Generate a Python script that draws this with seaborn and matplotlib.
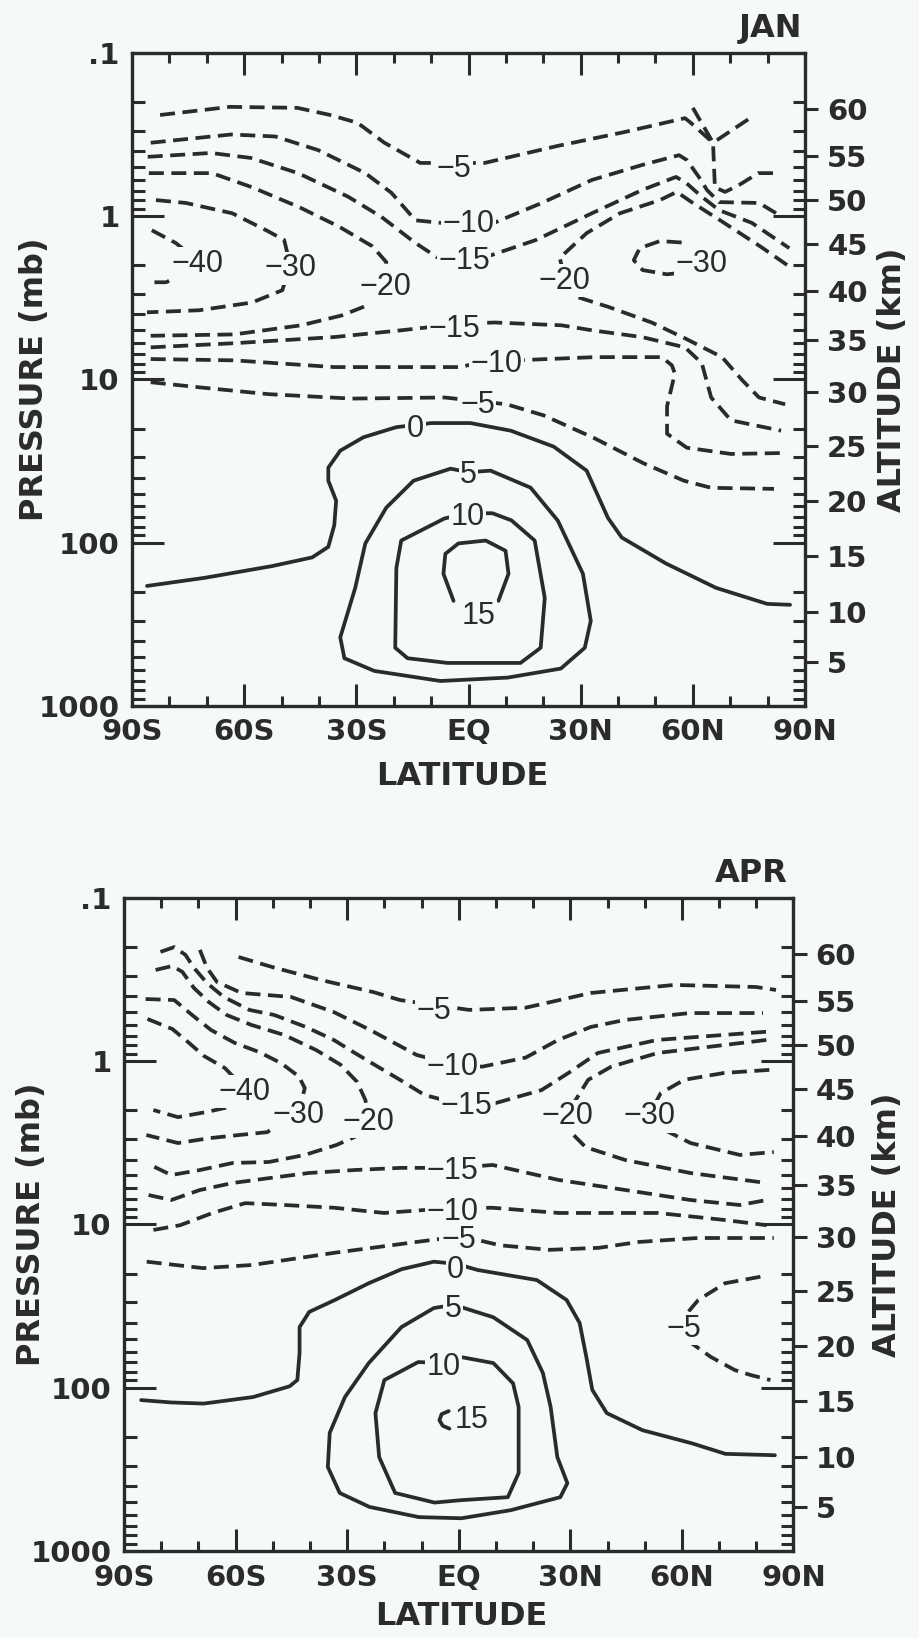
import numpy as np
import matplotlib
matplotlib.use("Agg")
import matplotlib.pyplot as plt
from matplotlib.ticker import FixedLocator, FixedFormatter, LogLocator, NullFormatter, NullLocator
import seaborn as sns

# ---------------- axis values ----------------
lat_ticks = [-90, -60, -30, 0, 30, 60, 90]
lat_tick_labels = ["90S", "60S", "30S", "EQ", "30N", "60N", "90N"]
lat_minor = [-80, -70, -50, -40, -20, -10, 10, 20, 40, 50, 70, 80]
p_ticks = [0.1, 1, 10, 100, 1000]
p_tick_labels = [".1", "1", "10", "100", "1000"]
alt_km = [5, 10, 15, 20, 25, 30, 35, 40, 45, 50, 55, 60]
alt_mb = [540, 265, 121, 55.3, 25.5, 12.0, 5.75, 2.87, 1.49, 0.80, 0.43, 0.22]

# ---------------- JAN contours (latitude, pressure mb) ----------------
jan_m5a_lat = [-82.5, -63.8, -45.8, -37.0, -29.7, -22.5, -12.9, 4.3, 23.9, 41.8, 57.9, 59.2, 65.4, 65.9, 68.6, 72.1, 77.5, 82.8]
jan_m5a_p = [0.240, 0.214, 0.217, 0.240, 0.268, 0.355, 0.472, 0.472, 0.371, 0.305, 0.251, 0.265, 0.355, 0.665, 0.71, 0.65, 0.545, 0.545]
jan_m5v_lat = [60.0, 65.4, 75.3]
jan_m5v_p = [0.217, 0.355, 0.251]
jan_m10a_lat = [-85.0, -63.5, -51.7, -40.2, -27.6, -20.6, -14.2, -7.2, 7.2, 19.6, 33.0, 46.4, 56.3, 58.4, 61.6, 63.8, 67.0, 77.7, 82.3, 83.1]
jan_m10a_p = [0.355, 0.316, 0.325, 0.394, 0.545, 0.72, 1.06, 1.10, 1.09, 0.83, 0.60, 0.486, 0.423, 0.453, 0.575, 0.692, 0.82, 0.83, 0.96, 1.01]
jan_m15a_lat = [-85.8, -68.9, -58.2, -45.6, -32.2, -23.3, -14.2, -7.2, 6.2, 18.0, 33.0, 46.4, 55.5, 58.2, 62.4, 67.0, 75.8, 85.8]
jan_m15a_p = [0.433, 0.41, 0.44, 0.545, 0.76, 1.01, 1.46, 1.86, 1.73, 1.40, 0.96, 0.692, 0.575, 0.625, 0.76, 0.918, 1.10, 1.57]
jan_m20a_lat = [-85.5, -68.6, -57.9, -45.3, -34.6, -25.7, -22.0, -22.0, -26.8, -34.0, -44.8, -62.7, -85.0]
jan_m20a_p = [0.545, 0.545, 0.665, 0.88, 1.16, 1.53, 1.91, 2.6, 3.5, 4.06, 4.66, 5.3, 5.4]
jan_m30a_lat = [-83.6, -75.6, -63.2, -54.1, -49.3, -47.7, -49.8, -57.9, -72.1, -86.0]
jan_m30a_p = [0.797, 0.83, 0.96, 1.22, 1.40, 1.99, 2.84, 3.38, 3.77, 3.88]
jan_m40_lat = [-84.7, -78.3, -72.6, -75.6, -80.9, -85.5]
jan_m40_p = [1.22, 1.46, 1.86, 2.23, 2.54, 2.54]
jan_m30b_lat = [57.0, 51.2, 45.8, 44.2, 46.6, 53.1, 57.0]
jan_m30b_p = [1.45, 1.42, 1.57, 1.86, 2.14, 2.27, 2.22]
jan_m20b_lat = [85.2, 78.0, 67.3, 60.0, 55.7, 51.2, 40.5, 31.6, 24.4, 25.7, 27.6, 37.5, 49.0, 57.9, 67.8, 73.2, 77.7, 84.7]
jan_m20b_p = [1.99, 1.53, 1.06, 0.83, 0.71, 0.797, 0.96, 1.27, 1.80, 2.38, 3.05, 3.6, 4.48, 5.6, 7.3, 10.1, 12.9, 14.2]
jan_m15b_lat = [-85.0, -62.7, -35.9, -18.0, -1.9, 7.0, 24.9, 33.0, 46.4, 57.9, 62.4, 64.9, 70.2, 83.6]
jan_m15b_p = [6.36, 6.0, 5.5, 5.0, 4.55, 4.48, 4.66, 5.0, 5.5, 6.36, 7.95, 12.9, 17.8, 20.6]
jan_m10b_lat = [-85.0, -62.7, -35.9, -2.7, 7.5, 15.0, 33.8, 51.7, 54.4, 55.2, 53.1, 53.1, 58.4, 70.2, 85.2]
jan_m10b_p = [7.5, 7.64, 8.4, 8.4, 7.6, 7.6, 7.3, 7.3, 8.2, 9.2, 14.6, 21.5, 26.2, 28.6, 28.2]
jan_m5b_lat = [-85.0, -71.6, -53.6, -31.4, -6.4, 2.9, 10.2, 20.1, 33.5, 46.9, 57.6, 64.9, 81.7]
jan_m5b_p = [10.4, 11.2, 12.3, 13.1, 12.9, 13.6, 14.2, 16.6, 22.8, 32.7, 41.7, 46.1, 46.8]
jan_0_lat = [-86.0, -70.5, -52.5, -41.8, -37.5, -35.9, -35.4, -37.5, -37.5, -34.3, -28.1, -19.3, -14.2, -9.9, 0.5, 11.3, 22.8, 31.6, 37.3, 41.0, 52.8, 66.2, 79.9, 86.0]
jan_0_p = [184, 164, 139, 123, 106, 78, 55.3, 41.7, 34.7, 27.3, 22.6, 19.6, 19.0, 18.5, 18.5, 20.6, 25.8, 36.2, 70.5, 93, 134, 189, 237, 240]
jan_5_lat = [0.0, -4.8, -14.7, -22.0, -27.6, -30.3, -34.3, -33.2, -25.2, -7.5, 10.5, 24.7, 31.1, 32.7, 30.6, 23.9, 16.6, 5.9, 0.0]
jan_5_p = [37, 35.2, 41.7, 61, 101, 189, 380, 510, 610, 703, 670, 590, 440, 301, 155, 73.3, 46, 36.2, 37]
jan_10_lat = [-0.3, -6.4, -18.0, -19.3, -19.6, -16.3, -5.6, 13.9, 19.3, 20.4, 17.7, 11.5, 6.4, -0.3]
jan_10_p = [66, 71, 97, 143, 440, 510, 545, 545, 440, 218, 97, 73, 66, 66]
jan_15_lat = [-4.0, -6.7, -6.2, -2.7, 4.6, 9.9, 10.7, 8.0]
jan_15_p = [227, 155, 117, 101, 97, 112, 155, 227]

jan_label_text = ["−5", "−10", "−15", "−20", "−30", "−40", "−30", "−20", "−15", "−10", "−5", "0", "5", "10", "15"]
jan_label_lat = [-3.8, 0.0, -1.2, -22.1, -47.7, -72.6, 62.4, 25.7, -3.8, 7.5, 2.4, -14.2, 0.0, -0.3, 2.7]
jan_label_p = [0.486, 1.06, 1.80, 2.60, 1.99, 1.86, 1.86, 2.37, 4.66, 7.64, 13.6, 19.1, 36.7, 66.5, 268]

# ---------------- APR contours (latitude, pressure mb) ----------------
apr_m5a_lat = [-59.2, -50.4, -37.1, -23.0, -15.8, 2.8, 18.0, 35.5, 57.9, 79.9, 85.3]
apr_m5a_p = [0.23, 0.264, 0.318, 0.377, 0.422, 0.485, 0.47, 0.382, 0.341, 0.351, 0.366]
apr_m10a_lat = [-69.6, -67.7, -65.0, -58.4, -45.1, -33.6, -23.8, -11.3, -1.2, 6.3, 18.0, 26.7, 35.5, 44.6, 62.1, 81.8]
apr_m10a_p = [0.208, 0.268, 0.327, 0.382, 0.404, 0.5, 0.644, 0.916, 1.05, 1.08, 0.95, 0.741, 0.617, 0.559, 0.507, 0.507]
apr_m15a_lat = [-80.2, -76.5, -73.5, -71.2, -67.7, -63.2, -56.3, -49.6, -41.1, -33.6, -28.3, -23.3, -15.8, -9.2, -1.1, 10.1, 22.3, 29.5, 37.4, 53.3, 82.6]
apr_m15a_p = [0.214, 0.2, 0.223, 0.268, 0.332, 0.404, 0.485, 0.521, 0.617, 0.741, 0.88, 1.03, 1.3, 1.61, 1.8, 1.8, 1.5, 1.18, 0.89, 0.741, 0.66]
apr_m20a_lat = [-81.5, -77.0, -74.3, -71.2, -67.2, -62.4, -55.7, -46.9, -38.4, -31.8, -27.3, -25.1, -24.1, -26.8, -32.9, -41.4, -51.0, -60.8, -69.6, -77.3, -82.9]
apr_m20a_p = [0.276, 0.261, 0.284, 0.356, 0.434, 0.521, 0.6, 0.691, 0.853, 1.05, 1.34, 1.73, 2.22, 2.83, 3.26, 3.75, 4.14, 4.2, 4.64, 4.98, 4.32]
apr_m30a_lat = [-84.2, -76.5, -71.7, -66.6, -60.2, -53.6, -47.7, -43.0, -41.4, -43.0, -51.5, -59.0, -67.0, -75.5, -84.0]
apr_m30a_p = [0.416, 0.422, 0.521, 0.644, 0.773, 0.88, 1.03, 1.24, 1.46, 2.02, 2.72, 2.83, 2.96, 3.17, 2.83]
apr_m40_lat = [-83.7, -77.0, -72.5, -68.5, -62.9, -57.7, -56.8, -67.5, -75.5, -82.1]
apr_m40_p = [0.551, 0.635, 0.773, 0.929, 1.1, 1.46, 1.8, 2.04, 2.2, 1.99]
apr_m20b_lat = [82.7, 53.5, 41.0, 34.8, 31.4, 29.1, 30.4, 34.1, 44.8, 62.3, 82.8]
apr_m20b_p = [0.741, 0.89, 1.08, 1.3, 1.73, 2.07, 2.76, 3.36, 4.03, 4.84, 5.57]
apr_m30b_lat = [83.5, 71.3, 60.6, 54.3, 51.4, 55.4, 62.3, 75.6, 84.7]
apr_m30b_p = [1.13, 1.18, 1.3, 1.57, 2.07, 2.64, 3.17, 3.75, 3.6]
apr_m15b_lat = [-83.4, -77.3, -69.6, -60.8, -51.0, -40.4, -28.1, -15.6, -1.0, 9.1, 26.9, 44.8, 62.3, 75.6, 82.8]
apr_m15b_p = [6.6, 7.08, 6.15, 5.57, 5.2, 4.84, 4.64, 4.5, 4.5, 4.32, 5.34, 6.15, 7.08, 7.6, 7.08]
apr_m10b_lat = [-82.1, -74.9, -66.2, -57.4, -46.7, -33.4, -20.1, -1.0, 9.1, 26.9, 53.5, 71.4, 82.8]
apr_m10b_p = [10.8, 10.1, 8.5, 7.4, 7.6, 7.9, 8.5, 7.9, 7.9, 8.5, 8.5, 9.38, 10.1]
apr_m5b_lat = [-83.9, -68.8, -55.5, -33.4, -6.8, 0.9, 11.0, 24.3, 37.6, 48.3, 64.2, 84.7]
apr_m5b_p = [16.9, 18.5, 17.7, 14.9, 12.4, 11.8, 13.4, 14.3, 13.9, 12.8, 12.1, 12.1]
apr_m5c_lat = [81.1, 71.6, 64.4, 61.7, 60.1, 62.5, 67.8, 74.2, 78.5, 83.8]
apr_m5c_p = [20.9, 22.9, 29.0, 34.3, 41.3, 53.2, 64.8, 77.9, 83.6, 89.7]
apr_0_lat = [-85.4, -77.4, -68.6, -55.3, -45.5, -43.4, -42.8, -42.8, -40.2, -33.3, -24.2, -15.4, -6.7, -0.8, 5.1, 21.0, 29.0, 32.5, 34.3, 35.9, 39.8, 49.4, 62.7, 71.7, 85.0]
apr_0_p = [119, 123, 125, 114, 98, 89.7, 61, 42.5, 34.3, 29.0, 22.9, 18.8, 16.9, 17.4, 19.0, 21.9, 29.0, 40.1, 64.8, 103, 143, 182, 219, 254, 259]
apr_5_lat = [-1.6, -6.7, -15.4, -24.2, -30.6, -34.7, -35.2, -32.0, -24.0, -10.7, 0.7, 14.0, 27.3, 29.2, 26.5, 24.7, 22.6, 18.4, 9.3, 0.5, -1.6]
apr_5_p = [31.1, 32.5, 42.5, 70.6, 114, 189, 306, 441, 537, 620, 630, 562, 468, 384, 266, 131, 81, 51, 37, 32, 31.1]
apr_10_lat = [-4.0, -10.9, -20.0, -22.4, -21.4, -17.1, -6.5, 0.7, 13.2, 16.1, 16.1, 14.6, 9.3, 0.5, -4.0]
apr_10_p = [70.6, 69.6, 89.7, 143, 266, 441, 505, 488, 468, 333, 131, 94, 70.6, 64.8, 70.6]
apr_15_lat = [-2.7, -4.6, -5.2, -4.3, -2.5]
apr_15_p = [139, 145, 158, 171, 178]

apr_label_text = ["−5", "−10", "−15", "−20", "−30", "−40", "−20", "−30", "−15", "−10", "−5", "0", "5", "10", "15", "−5"]
apr_label_lat = [-6.8, -1.6, 2.0, -24.2, -43.2, -57.7, 29.1, 51.4, -1.8, -1.8, -0.1, -0.8, -1.6, -4.0, 3.4, 60.4]
apr_label_p = [0.47, 1.03, 1.78, 2.23, 2.02, 1.46, 2.07, 2.07, 4.5, 8.0, 11.8, 18.0, 31.5, 70.6, 151, 41.3]

jan_lines = [
    (jan_m5a_lat, jan_m5a_p, -5), (jan_m5v_lat, jan_m5v_p, -5),
    (jan_m10a_lat, jan_m10a_p, -10), (jan_m15a_lat, jan_m15a_p, -15),
    (jan_m20a_lat, jan_m20a_p, -20), (jan_m30a_lat, jan_m30a_p, -30),
    (jan_m40_lat, jan_m40_p, -40), (jan_m30b_lat, jan_m30b_p, -30),
    (jan_m20b_lat, jan_m20b_p, -20), (jan_m15b_lat, jan_m15b_p, -15),
    (jan_m10b_lat, jan_m10b_p, -10), (jan_m5b_lat, jan_m5b_p, -5),
    (jan_0_lat, jan_0_p, 0), (jan_5_lat, jan_5_p, 5),
    (jan_10_lat, jan_10_p, 10), (jan_15_lat, jan_15_p, 15),
]
apr_lines = [
    (apr_m5a_lat, apr_m5a_p, -5), (apr_m10a_lat, apr_m10a_p, -10),
    (apr_m15a_lat, apr_m15a_p, -15), (apr_m20a_lat, apr_m20a_p, -20),
    (apr_m30a_lat, apr_m30a_p, -30), (apr_m40_lat, apr_m40_p, -40),
    (apr_m20b_lat, apr_m20b_p, -20), (apr_m30b_lat, apr_m30b_p, -30),
    (apr_m15b_lat, apr_m15b_p, -15), (apr_m10b_lat, apr_m10b_p, -10),
    (apr_m5b_lat, apr_m5b_p, -5), (apr_m5c_lat, apr_m5c_p, -5),
    (apr_0_lat, apr_0_p, 0), (apr_5_lat, apr_5_p, 5),
    (apr_10_lat, apr_10_p, 10), (apr_15_lat, apr_15_p, 15),
]

INK = "#2b2b2b"
BG = "#f5f9f9"

sns.set_theme(style="ticks")
plt.rcParams["font.family"] = ["DejaVu Sans"]
plt.rcParams["font.weight"] = "bold"
plt.rcParams["axes.labelweight"] = "bold"
plt.rcParams["axes.facecolor"] = BG
plt.rcParams["figure.facecolor"] = BG


def draw_panel(ax, lines, lab_text, lab_lat, lab_p, month, month_x, ylab_x, y2lab_x, xlab_xy):
    for lat, p, level in lines:
        ls = "-" if level >= 0 else (0, (4.0, 2.0))
        sns.lineplot(x=lat, y=p, ax=ax, sort=False, estimator=None,
                     color=INK, linewidth=2.7, linestyle=ls)

    # gaps under the contour labels, then the labels themselves
    for s, x, y in zip(lab_text, lab_lat, lab_p):
        ax.text(x, y, s, ha="center", va="center_baseline", fontsize=22, fontweight="normal",
                family=["Liberation Sans", "DejaVu Sans"], color="none", zorder=5,
                bbox=dict(boxstyle="square,pad=0.05", fc=BG, ec="none"))
    for s, x, y in zip(lab_text, lab_lat, lab_p):
        ax.text(x, y, s, ha="center", va="center_baseline", fontsize=22, fontweight="normal",
                family=["Liberation Sans", "DejaVu Sans"], color=INK, zorder=7)

    ax.set_xlim(-90, 90)
    ax.set_yscale("log")
    ax.set_ylim(1000, 0.1)
    ax.xaxis.set_major_locator(FixedLocator(lat_ticks))
    ax.xaxis.set_major_formatter(FixedFormatter(lat_tick_labels))
    ax.xaxis.set_minor_locator(FixedLocator(lat_minor))
    ax.yaxis.set_major_locator(FixedLocator(p_ticks))
    ax.yaxis.set_major_formatter(FixedFormatter(p_tick_labels))
    ax.yaxis.set_minor_locator(LogLocator(base=10, subs=np.arange(2, 10)))
    ax.yaxis.set_minor_formatter(NullFormatter())

    for sp in ax.spines.values():
        sp.set_visible(True)
        sp.set_linewidth(2.4)
        sp.set_color(INK)

    ax.set_xlabel("LATITUDE", fontsize=23, fontweight="bold", color=INK)
    ax.xaxis.set_label_coords(*xlab_xy)
    ax.set_ylabel("PRESSURE (mb)", fontsize=23, fontweight="bold", color=INK)
    ax.yaxis.set_label_coords(ylab_x, 0.5)

    ax2 = ax.twinx()
    ax2.set_yscale("log")
    ax2.set_ylim(1000, 0.1)
    ax2.yaxis.set_major_locator(FixedLocator(alt_mb))
    ax2.yaxis.set_major_formatter(FixedFormatter([str(k) for k in alt_km]))
    ax2.yaxis.set_minor_locator(NullLocator())
    for sp in ax2.spines.values():
        sp.set_visible(False)
    ax2.tick_params(axis="y", which="major", direction="out", length=9, width=2.2,
                    labelsize=21, pad=7, color=INK, labelcolor=INK)
    ax2.set_ylabel("ALTITUDE (km)", fontsize=23, fontweight="bold", color=INK)
    ax2.yaxis.set_label_coords(y2lab_x, 0.5)

    ax.tick_params(axis="x", which="major", direction="in", top=True, bottom=True,
                   length=16, width=2.2, labelsize=21, pad=9, color=INK, labelcolor=INK)
    ax.tick_params(axis="x", which="minor", direction="in", top=True, bottom=True,
                   length=7, width=2.2, color=INK)
    ax.tick_params(axis="y", which="major", direction="in", left=True, right=True,
                   length=23, width=2.2, labelsize=21, pad=9, color=INK, labelcolor=INK)
    ax.tick_params(axis="y", which="minor", direction="in", left=True, right=True,
                   length=9, width=2.2, color=INK)

    ax.text(month_x, 1.024, month, transform=ax.transAxes, ha="right", va="baseline",
            fontsize=23, fontweight="bold", color=INK)


fig = plt.figure(figsize=(9.2, 16.38), dpi=100)
ax_jan = fig.add_axes([0.1435, 0.5690, 0.7315, 0.3987])
ax_apr = fig.add_axes([0.1348, 0.0531, 0.7277, 0.3987])

draw_panel(ax_jan, jan_lines, jan_label_text, jan_label_lat, jan_label_p,
           "JAN", 0.9955, -0.122, 1.107, (0.49, -0.084))
draw_panel(ax_apr, apr_lines, apr_label_text, apr_label_lat, apr_label_p,
           "APR", 0.992, -0.115, 1.117, (0.503, -0.077))

fig.savefig("out.png", dpi=100, facecolor=BG)
